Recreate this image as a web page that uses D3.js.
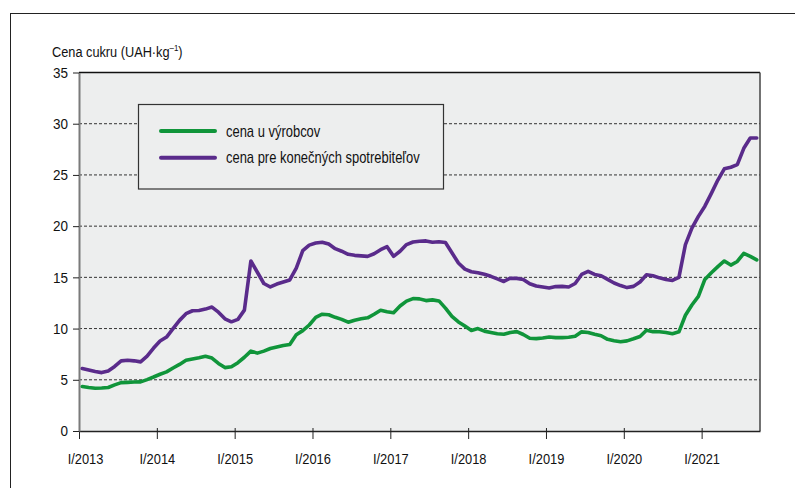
<!DOCTYPE html>
<html>
<head>
<meta charset="utf-8">
<script src="https://cdn.jsdelivr.net/npm/d3@7"></script>
<style>
    body { margin: 0; background: #fff; }
    svg text { font-family: "Liberation Sans", Arial, sans-serif; fill: #111; }
</style>
</head>
<body>
<svg id="chart" width="795" height="488"></svg>
<script>
// mesacne ceny cukru, I/2013 .. IX/2021
const yearLabels = ['I/2013', 'I/2014', 'I/2015', 'I/2016', 'I/2017', 'I/2018', 'I/2019', 'I/2020', 'I/2021'];
const yTicks = [0, 5, 10, 15, 20, 25, 30, 35];
const seriesNames = ['cena u výrobcov', 'cena pre konečných spotrebiteľov'];

const producerPrice = [
    4.34, 4.25, 4.18, 4.2, 4.25, 4.5, 4.72, 4.75, 4.78, 4.8, 5.02, 5.27,
    5.54, 5.77, 6.15, 6.5, 6.9, 7.02, 7.15, 7.3, 7.12, 6.6, 6.19, 6.27,
    6.67, 7.2, 7.8, 7.6, 7.8, 8.05, 8.2, 8.35, 8.45, 9.4, 9.8, 10.35,
    11.1, 11.4, 11.35, 11.1, 10.9, 10.62, 10.82, 10.95, 11.05, 11.4, 11.79, 11.65,
    11.55, 12.2, 12.68, 12.93, 12.9, 12.73, 12.8, 12.7, 12.0, 11.2, 10.65, 10.25,
    9.82, 10.0, 9.75, 9.62, 9.5, 9.45, 9.62, 9.7, 9.42, 9.05, 9.02, 9.08,
    9.17, 9.12, 9.12, 9.15, 9.25, 9.68, 9.62, 9.45, 9.3, 8.95, 8.82, 8.72,
    8.8, 9.0, 9.22, 9.84, 9.7, 9.69, 9.62, 9.5, 9.68, 11.3, 12.3, 13.15,
    14.8, 15.45, 16.05, 16.6, 16.2, 16.55, 17.35, 17.05, 16.7
];

const consumerPrice = [
    6.1, 5.95, 5.8, 5.7, 5.86, 6.3, 6.85, 6.9, 6.85, 6.75, 7.3, 8.1,
    8.78, 9.17, 10.0, 10.8, 11.45, 11.74, 11.76, 11.9, 12.1, 11.6, 10.95, 10.66,
    10.9, 11.8, 16.6, 15.5, 14.4, 14.06, 14.35, 14.55, 14.75, 15.9, 17.6, 18.15,
    18.35, 18.43, 18.25, 17.8, 17.55, 17.25, 17.15, 17.1, 17.05, 17.3, 17.7, 18.0,
    17.05, 17.55, 18.2, 18.45, 18.53, 18.56, 18.43, 18.48, 18.4, 17.4, 16.4, 15.8,
    15.55, 15.45, 15.3, 15.1, 14.85, 14.6, 14.92, 14.9, 14.8, 14.37, 14.15, 14.05,
    13.96, 14.1, 14.12, 14.06, 14.4, 15.28, 15.58, 15.28, 15.16, 14.8, 14.45, 14.2,
    14.0, 14.12, 14.55, 15.26, 15.15, 14.95, 14.8, 14.7, 15.0, 18.2, 19.8, 20.95,
    21.95, 23.2, 24.5, 25.6, 25.75, 26.0, 27.6, 28.6, 28.6
];

const colors = ['#10953a', '#5a2b8b'];

const svg = d3.select('#chart');

// vonkajsi ramik
svg.append('rect')
    .attr('x', 10.5).attr('y', 13.5)
    .attr('width', 800).attr('height', 500)
    .attr('fill', 'none').attr('stroke', '#222').attr('stroke-width', 1);

const x = d3.scaleLinear().domain([0, 105]).range([79, 760]);
const y = d3.scaleLinear().domain([0, 35]).range([431, 72.5]);

// pozadie grafu
svg.append('rect')
    .attr('x', x(0)).attr('y', y(35))
    .attr('width', x(105) - x(0)).attr('height', y(0) - y(35))
    .attr('fill', '#edeeee');

// mriezka
svg.append('g')
    .selectAll('line')
    .data(yTicks.filter(d => d > 0 && d < 35))
    .join('line')
    .attr('x1', x(0)).attr('x2', x(105))
    .attr('y1', d => y(d)).attr('y2', d => y(d))
    .attr('stroke', '#333').attr('stroke-width', 1)
    .attr('stroke-dasharray', '3,2');

// ramik grafu
svg.append('line').attr('x1', x(0)).attr('x2', x(105)).attr('y1', y(35)).attr('y2', y(35))
    .attr('stroke', '#111').attr('stroke-width', 1.5);
svg.append('line').attr('x1', x(105)).attr('x2', x(105)).attr('y1', y(35)).attr('y2', y(0))
    .attr('stroke', '#444').attr('stroke-width', 1.5);

// osi
const xAxis = d3.axisBottom(x)
    .tickValues(yearLabels.map((d, i) => i * 12))
    .tickFormat((d, i) => yearLabels[i])
    .tickSizeInner(8).tickSizeOuter(0).tickPadding(14);
const gx = svg.append('g').attr('transform', `translate(0,${y(0)})`).call(xAxis);
gx.select('.domain').attr('stroke', '#222').attr('stroke-width', 1.5);
gx.selectAll('.tick line').attr('stroke', '#222').attr('y1', -3);
gx.selectAll('.tick text')
    .attr('font-size', 15.5).attr('fill', '#111')
    .attr('x', (d, i) => i === 0 ? 6 / 0.83 : 0)   // prvy popis je posunuty doprava
    .attr('transform', 'scale(0.83,1)');

const yAxis = d3.axisLeft(y)
    .tickValues(yTicks)
    .tickSizeInner(6).tickSizeOuter(0).tickPadding(5);
const gy = svg.append('g').attr('transform', `translate(${x(0)},0)`).call(yAxis);
gy.select('.domain').attr('stroke', '#7a7a7a').attr('stroke-width', 2);
gy.selectAll('.tick line').attr('stroke', '#222');
gy.selectAll('.tick text')
    .attr('font-size', 15).attr('fill', '#111')
    .attr('x', -11 / 0.9)
    .attr('transform', 'scale(0.9,1)');

// nazov osi
const yTitle = svg.append('text')
    .attr('transform', 'translate(52,57) scale(0.88,1)')
    .attr('font-size', 14.5);
yTitle.append('tspan').text('Cena cukru (UAH·kg');
yTitle.append('tspan').attr('font-size', 9).attr('dy', -6).text('–1');
yTitle.append('tspan').attr('dy', 6).text(')');

// krivky
const line = d3.line()
    .x((d, i) => x(i + 0.5))
    .y(d => y(d));

[producerPrice, consumerPrice].forEach((s, k) => {
    svg.append('path')
        .datum(s)
        .attr('d', line)
        .attr('fill', 'none')
        .attr('stroke', colors[k])
        .attr('stroke-width', 3.6)
        .attr('stroke-linejoin', 'round')
        .attr('stroke-linecap', 'round');
});

// legenda
const lg = svg.append('g');
lg.append('rect')
    .attr('x', 138.5).attr('y', 104.5)
    .attr('width', 305).attr('height', 84.5)
    .attr('fill', '#edeeee').attr('stroke', '#333').attr('stroke-width', 1.2);
seriesNames.forEach((name, k) => {
    let ly = 131 + k * 26.7;
    lg.append('line')
        .attr('x1', 161).attr('x2', 215)
        .attr('y1', ly).attr('y2', ly)
        .attr('stroke', colors[k]).attr('stroke-width', 4)
        .attr('stroke-linecap', 'round');
    lg.append('text')
        .attr('transform', `translate(226,${ly + 5.5}) scale(0.82,1)`)
        .attr('font-size', 15.8)
        .text(name);
});
</script>
</body>
</html>
